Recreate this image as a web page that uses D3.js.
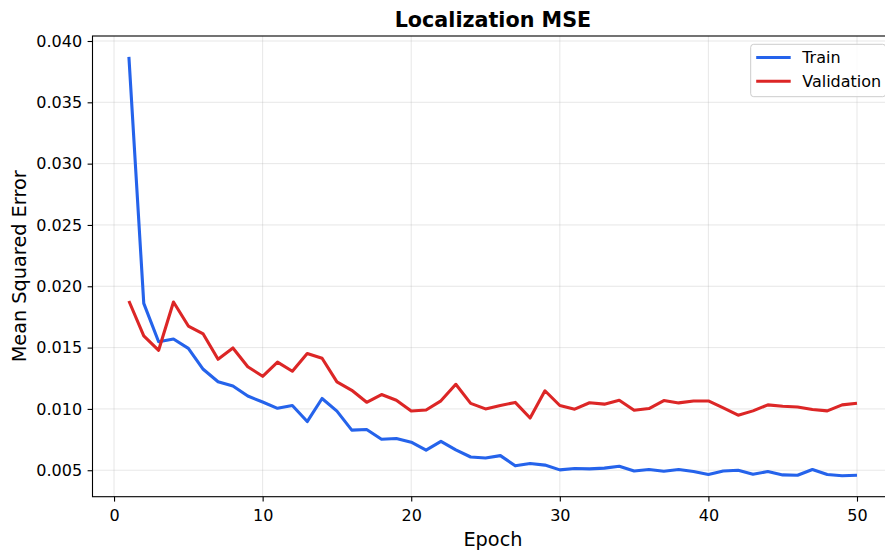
<!DOCTYPE html>
<html>
<head>
<meta charset="utf-8">
<script src="https://cdn.jsdelivr.net/npm/d3@7"></script>
<style>
  html, body { margin: 0; padding: 0; background: #fff; overflow: hidden; }
  svg { display: block; font-family: "DejaVu Sans", sans-serif; }
</style>
</head>
<body>
<svg id="chart" width="885" height="552"></svg>
<script>
// Per-epoch localization MSE for the training and validation sets
const epochs = d3.range(1, 51);
const trainMSE = [
  0.03870, 0.01861, 0.01548, 0.01570, 0.01494, 0.01323, 0.01222, 0.01187, 0.01105, 0.01056,
  0.01005, 0.01028, 0.00897, 0.01085, 0.00982, 0.00827, 0.00832, 0.00753, 0.00759, 0.00729,
  0.00664, 0.00735, 0.00666, 0.00608, 0.00600, 0.00619, 0.00536, 0.00555, 0.00542, 0.00503,
  0.00514, 0.00511, 0.00517, 0.00533, 0.00494, 0.00506, 0.00492, 0.00506, 0.00489, 0.00465,
  0.00494, 0.00500, 0.00467, 0.00489, 0.00462, 0.00459, 0.00506, 0.00465, 0.00455, 0.00459
];
const valMSE = [
  0.01880, 0.01595, 0.01478, 0.01872, 0.01676, 0.01611, 0.01405, 0.01497, 0.01344, 0.01266,
  0.01382, 0.01307, 0.01452, 0.01413, 0.01220, 0.01152, 0.01054, 0.01117, 0.01071, 0.00983,
  0.00991, 0.01066, 0.01201, 0.01045, 0.01000, 0.01028, 0.01053, 0.00926, 0.01148, 0.01028,
  0.00998, 0.01050, 0.01039, 0.01070, 0.00989, 0.01003, 0.01068, 0.01049, 0.01065, 0.01065,
  0.01008, 0.00949, 0.00984, 0.01033, 0.01022, 0.01016, 0.00995, 0.00984, 0.01033, 0.01046
];
const xTicks = [0, 10, 20, 30, 40, 50];
const yTicks = [0.005, 0.010, 0.015, 0.020, 0.025, 0.030, 0.035, 0.040];
const seriesNames = ["Train", "Validation"];
const seriesColors = ["#2563eb", "#dc2626"];

const series = [
  { name: seriesNames[0], color: seriesColors[0], values: trainMSE },
  { name: seriesNames[1], color: seriesColors[1], values: valMSE }
];

// Plot frame (right edge runs slightly past the canvas)
const frame = { left: 92.5, right: 893.4, top: 36, bottom: 496.7 };

// Auto-limits with 5% padding on both axes
function padded(lo, hi) {
  const p = (hi - lo) * 0.05;
  return [lo - p, hi + p];
}
const allVals = trainMSE.concat(valMSE);
const x = d3.scaleLinear()
  .domain(padded(d3.min(epochs), d3.max(epochs)))
  .range([frame.left, frame.right]);
const y = d3.scaleLinear()
  .domain(padded(d3.min(allVals), d3.max(allVals)))
  .range([frame.bottom, frame.top]);

const svg = d3.select("#chart");

// Grid
const grid = svg.append("g").attr("stroke", "#b0b0b0").attr("stroke-opacity", 0.3).attr("stroke-width", 1);
grid.selectAll("line.gx").data(xTicks).join("line")
  .attr("x1", d => x(d)).attr("x2", d => x(d))
  .attr("y1", frame.top).attr("y2", frame.bottom);
grid.selectAll("line.gy").data(yTicks).join("line")
  .attr("x1", frame.left).attr("x2", frame.right)
  .attr("y1", d => y(d)).attr("y2", d => y(d));

// Lines
const line = d3.line()
  .x((d, i) => x(epochs[i]))
  .y(d => y(d));
svg.append("g").selectAll("path").data(series).join("path")
  .attr("fill", "none")
  .attr("stroke", d => d.color)
  .attr("stroke-width", 3.1)
  .attr("stroke-linejoin", "round")
  .attr("stroke-linecap", "butt")
  .attr("d", d => line(d.values));

// Axes
const fmtY = d3.format(".3f");
const xAxis = d3.axisBottom(x).tickValues(xTicks).tickSize(4.9).tickPadding(8.5).tickFormat(d3.format("d"));
const yAxis = d3.axisLeft(y).tickValues(yTicks).tickSize(4.9).tickPadding(5.5).tickFormat(fmtY);

const gx = svg.append("g").attr("transform", `translate(0,${frame.bottom})`).call(xAxis);
const gy = svg.append("g").attr("transform", `translate(${frame.left},0)`).call(yAxis);
[gx, gy].forEach(g => {
  g.select(".domain").remove();
  g.selectAll(".tick line").attr("stroke", "#000").attr("stroke-width", 1.1);
  g.selectAll(".tick text").attr("fill", "#000")
    .style("font-family", "'DejaVu Sans', sans-serif").style("font-size", "16px");
});
gx.selectAll(".tick text").attr("dy", "0.71em");

// Frame
svg.append("rect")
  .attr("x", frame.left).attr("y", frame.top)
  .attr("width", frame.right - frame.left).attr("height", frame.bottom - frame.top)
  .attr("fill", "none").attr("stroke", "#000").attr("stroke-width", 1.1);

// Title and axis labels
svg.append("text")
  .attr("x", (frame.left + frame.right) / 2).attr("y", 27)
  .attr("text-anchor", "middle")
  .style("font-size", "20.7px").style("font-weight", "bold")
  .text("Localization MSE");
svg.append("text")
  .attr("x", (frame.left + frame.right) / 2).attr("y", 546)
  .attr("text-anchor", "middle")
  .style("font-size", "19.3px")
  .text("Epoch");
svg.append("text")
  .attr("transform", `translate(26,${(frame.top + frame.bottom) / 2}) rotate(-90)`)
  .attr("text-anchor", "middle")
  .style("font-size", "19.3px")
  .text("Mean Squared Error");

// Legend
const legend = svg.append("g").attr("transform", "translate(750.7,44.3)");
legend.append("rect")
  .attr("width", 135).attr("height", 52.4).attr("rx", 3)
  .attr("fill", "#fff").attr("fill-opacity", 0.8)
  .attr("stroke", "#cccccc").attr("stroke-width", 1);
const items = legend.selectAll("g.item").data(series).join("g")
  .attr("transform", (d, i) => `translate(0,${13.2 + i * 23.7})`);
items.append("line")
  .attr("x1", 5.5).attr("x2", 40)
  .attr("stroke", d => d.color).attr("stroke-width", 3.1);
items.append("text")
  .attr("x", 51.5).attr("dy", "0.36em")
  .style("font-size", "16px")
  .text(d => d.name);
</script>
</body>
</html>
